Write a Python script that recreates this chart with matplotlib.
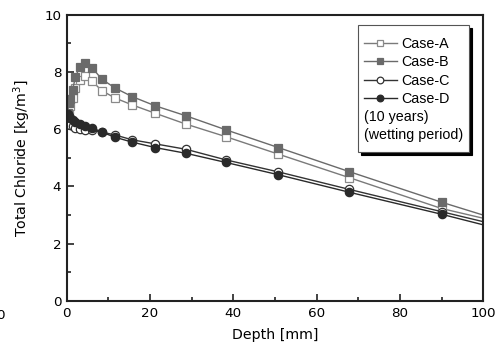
import matplotlib
matplotlib.use('Agg')
import matplotlib.pyplot as plt
from matplotlib.offsetbox import TextArea, DrawingArea
from matplotlib.ticker import MultipleLocator

# depth of the mesh nodes [mm], last node lies on the right edge
depth = [0.2, 0.5, 0.9, 1.4, 2.1, 3.1, 4.4, 6.1, 8.4, 11.6, 15.7, 21.2, 28.6,
         38.2, 50.8, 67.8, 90.0, 100.0]
case_a = [6.30, 6.50, 6.80, 7.10, 7.45, 7.72, 7.85, 7.68, 7.35, 7.09, 6.85,
          6.56, 6.18, 5.74, 5.13, 4.31, 3.23, 2.89]
case_b = [6.55, 6.90, 7.05, 7.38, 7.82, 8.18, 8.33, 8.15, 7.75, 7.44, 7.14,
          6.82, 6.47, 5.98, 5.36, 4.52, 3.45, 3.00]
case_c = [6.25, 6.20, 6.14, 6.10, 6.06, 6.02, 5.98, 5.96, 5.90, 5.80, 5.63,
          5.49, 5.30, 4.93, 4.51, 3.90, 3.12, 2.77]
case_d = [6.52, 6.45, 6.38, 6.32, 6.26, 6.18, 6.12, 6.05, 5.90, 5.72, 5.55,
          5.36, 5.16, 4.84, 4.41, 3.80, 3.03, 2.66]
labels = ['Case-A', 'Case-B', 'Case-C', 'Case-D']
note = '(10 years)\n(wetting period)'

fig = plt.figure(figsize=(4.99, 3.56), dpi=100)
ax = fig.add_axes([0.1337, 0.1545, 0.8348, 0.8042])

marks = slice(0, len(depth) - 1)  # no marker on the edge node
styles = [
    dict(marker='s', mfc='white', mec='#8a8a8a', color='#7a7a7a', ms=5.6),
    dict(marker='s', mfc='#6a6a6a', mec='#6a6a6a', color='#6a6a6a', ms=5.6),
    dict(marker='o', mfc='white', mec='#333333', color='#333333', ms=6.0),
    dict(marker='o', mfc='#2a2a2a', mec='#2a2a2a', color='#2a2a2a', ms=6.0),
]
handles = []
for vals, lab, st in zip([case_a, case_b, case_c, case_d], labels, styles):
    h, = ax.plot(depth, vals, lw=1.0, mew=0.9, markevery=marks, label=lab,
                 clip_on=True, **st)
    handles.append(h)

ax.set_xlim(0, 100)
ax.set_ylim(0, 10)
ax.xaxis.set_major_locator(MultipleLocator(20))
ax.xaxis.set_minor_locator(MultipleLocator(10))
ax.yaxis.set_major_locator(MultipleLocator(2))
ax.yaxis.set_minor_locator(MultipleLocator(1))
ax.tick_params(which='both', direction='in', color='#222222', width=1.2,
               labelsize=9.7, pad=4)
ax.tick_params(which='major', length=5)
ax.tick_params(which='minor', length=3)
for sp in ax.spines.values():
    sp.set_linewidth(1.5)
    sp.set_color('#222222')

ax.set_xlabel('Depth [mm]', fontsize=10.2, labelpad=6)
ax.set_ylabel('Total Chloride [kg/m$^3$]', fontsize=10.2, labelpad=8)

leg = ax.legend(handles=handles, loc='upper right',
                bbox_to_anchor=(0.9657, 0.964), borderaxespad=0,
                prop={'family': 'Liberation Sans', 'size': 10.3},
                handlelength=2.3, handletextpad=0.3, labelspacing=0.3,
                borderpad=0.4, fancybox=False, alignment='left',
                markerscale=0.8,
                shadow={'color': 'black', 'alpha': 1})
leg.get_frame().set_edgecolor('#555555')
leg.get_frame().set_linewidth(0.8)
extra = TextArea(note, textprops=dict(family='Liberation Sans', size=10.3,
                                      linespacing=1.3))
box = leg._legend_box._children
box.insert(0, DrawingArea(0, 1.5))   # a little more room above the first row
box.append(extra)
box.append(DrawingArea(0, 0.5))
leg._legend_box.set_figure(fig)

# cut-off tick label at the left edge of the picture
fig.text(0.0, 0.115, '0', ha='center', va='center', fontsize=9.7)

fig.savefig('out.png', dpi=100)
